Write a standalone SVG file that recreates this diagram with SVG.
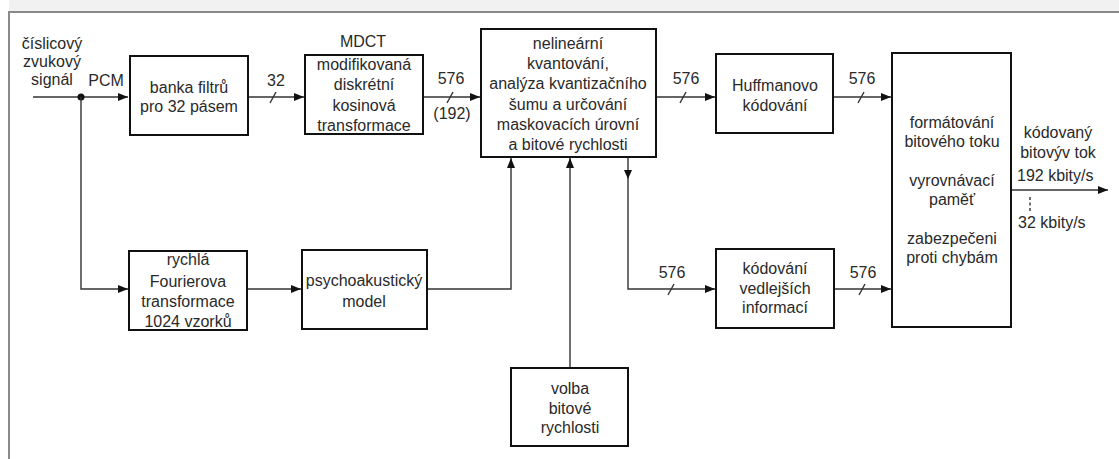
<svg xmlns="http://www.w3.org/2000/svg" width="1119" height="459" viewBox="0 0 1119 459">
<style>
.box{fill:#fff;stroke:#111;stroke-width:2}
.t{font-family:"Liberation Sans",Arial,sans-serif;font-size:16px;fill:#2a2a2a;text-anchor:middle}
.ts{font-family:"Liberation Sans",Arial,sans-serif;font-size:16px;fill:#2a2a2a;text-anchor:start}
.c{fill:none;stroke:#333;stroke-width:1.4}
.sl{stroke:#333;stroke-width:1.4}
</style>
<defs>
<marker id="ah" viewBox="0 0 10 8" refX="10" refY="4" markerWidth="10" markerHeight="8" markerUnits="userSpaceOnUse" orient="auto">
<path d="M0,0 L10,4 L0,8 z" fill="#111"/>
</marker>
</defs>
<rect x="0" y="0" width="1119" height="459" fill="#fff"/>
<rect x="9" y="0" width="1110" height="11" fill="#f1f1f1"/>
<g id="frame" fill="none" stroke="#8a8a8a" stroke-width="2">
<path d="M9,459 V12 H1119"/>
</g>
<g id="connectors">
<path class="c" d="M33,97 H128" marker-end="url(#ah)"/>
<circle cx="81" cy="97" r="3.5" fill="#111"/>
<path class="c" d="M248,97 H304" marker-end="url(#ah)"/>
<path class="c" d="M423,97 H480" marker-end="url(#ah)"/>
<path class="c" d="M656,97 H715" marker-end="url(#ah)"/>
<path class="c" d="M833,97 H891" marker-end="url(#ah)"/>
<path class="c" d="M1011,190 H1108" marker-end="url(#ah)"/>
<path class="c" d="M1030,197 V213" stroke-dasharray="3,2.5"/>
<path class="c" d="M81,97 V289 H128" marker-end="url(#ah)"/>
<path class="c" d="M247,289 H301" marker-end="url(#ah)"/>
<path class="c" d="M427,289 H511 V158" marker-end="url(#ah)"/>
<path class="c" d="M570,368 V158" marker-end="url(#ah)"/>
<path class="c" d="M628,157 V289 H715" marker-end="url(#ah)"/>
<path d="M624,170 L632,170 L628,179 z" fill="#111"/>
<path class="c" d="M834,289 H891" marker-end="url(#ah)"/>
<line class="sl" x1="270" y1="103" x2="276" y2="92"/>
<line class="sl" x1="447" y1="103" x2="453" y2="92"/>
<line class="sl" x1="680" y1="103" x2="686" y2="92"/>
<line class="sl" x1="858" y1="103" x2="864" y2="92"/>
<line class="sl" x1="668" y1="295" x2="674" y2="284"/>
<line class="sl" x1="859" y1="295" x2="865" y2="284"/>
<text class="t" x="52" y="49">číslicový</text>
<text class="t" x="52" y="67">zvukový</text>
<text class="t" x="52" y="85">signál</text>
<text class="t" x="106" y="86">PCM</text>
<text class="t" x="276" y="86">32</text>
<text class="t" x="451" y="84">576</text>
<text class="t" x="452" y="119">(192)</text>
<text class="t" x="686" y="84">576</text>
<text class="t" x="862" y="84">576</text>
<text class="t" x="672" y="278">576</text>
<text class="t" x="863" y="278">576</text>
<text class="t" x="1058" y="138">kódovaný</text>
<text class="t" x="1058" y="158">bitovýv tok</text>
<text class="ts" x="1017" y="181">192 kbity/s</text>
<text class="ts" x="1018" y="228">32 kbity/s</text>
</g>
<g id="banka">
<rect class="box" x="130" y="56" width="118" height="79"/>
<text class="t" x="189" y="93">banka filtrů</text>
<text class="t" x="189" y="112">pro 32 pásem</text>
</g>
<g id="mdct">
<text class="t" x="363" y="47">MDCT</text>
<rect class="box" x="305" y="55" width="118" height="79"/>
<text class="t" x="364" y="70">modifikovaná</text>
<text class="t" x="364" y="90">diskrétní</text>
<text class="t" x="364" y="111">kosinová</text>
<text class="t" x="364" y="131">transformace</text>
</g>
<g id="kvant">
<rect class="box" x="481" y="29" width="175" height="128"/>
<text class="t" x="568" y="49">nelineární</text>
<text class="t" x="568" y="69">kvantování,</text>
<text class="t" x="568" y="89">analýza kvantizačního</text>
<text class="t" x="568" y="110">šumu a určování</text>
<text class="t" x="568" y="130">maskovacích úrovní</text>
<text class="t" x="568" y="150">a bitové rychlosti</text>
</g>
<g id="huffman">
<rect class="box" x="716" y="54" width="117" height="79"/>
<text class="t" x="775" y="91">Huffmanovo</text>
<text class="t" x="775" y="111">kódování</text>
</g>
<g id="format">
<rect class="box" x="892" y="53" width="119" height="274"/>
<text class="t" x="952" y="128">formátování</text>
<text class="t" x="952" y="147">bitového toku</text>
<text class="t" x="952" y="186">vyrovnávací</text>
<text class="t" x="952" y="205">paměť</text>
<text class="t" x="952" y="244">zabezpečeni</text>
<text class="t" x="952" y="263">proti chybám</text>
</g>
<g id="fft">
<rect class="box" x="129" y="251" width="118" height="79"/>
<text class="t" x="188" y="265">rychlá</text>
<text class="t" x="188" y="287">Fourierova</text>
<text class="t" x="188" y="307">transformace</text>
<text class="t" x="188" y="327">1024 vzorků</text>
</g>
<g id="psycho">
<rect class="box" x="302" y="250" width="125" height="79"/>
<text class="t" x="364" y="286">psychoakustický</text>
<text class="t" x="364" y="307">model</text>
</g>
<g id="vedlejsi">
<rect class="box" x="716" y="249" width="118" height="79"/>
<text class="t" x="775" y="274">kódování</text>
<text class="t" x="775" y="294">vedlejších</text>
<text class="t" x="775" y="313">informací</text>
</g>
<g id="volba">
<rect class="box" x="511" y="368" width="117" height="78"/>
<text class="t" x="570" y="394">volba</text>
<text class="t" x="570" y="414">bitové</text>
<text class="t" x="570" y="433">rychlosti</text>
</g>
</svg>
